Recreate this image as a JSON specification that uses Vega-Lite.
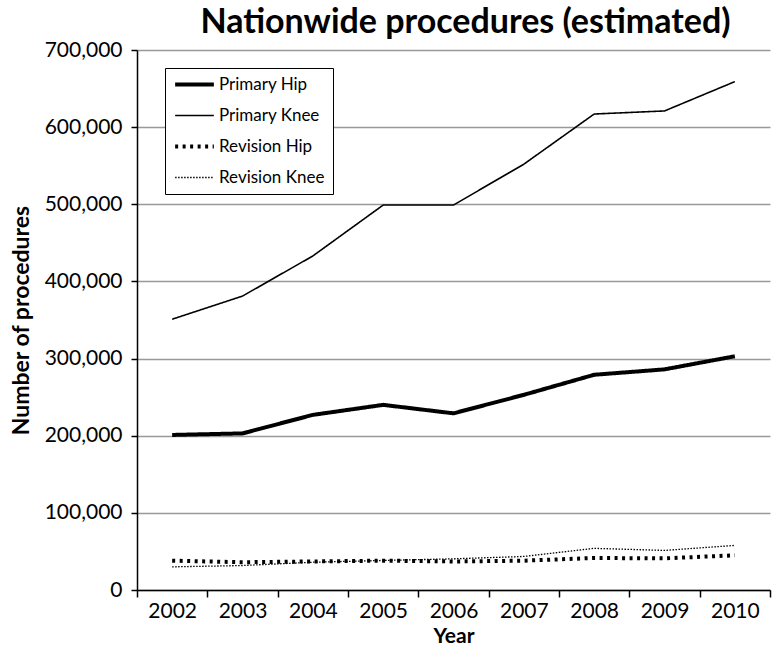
{
  "$schema": "https://vega.github.io/schema/vega-lite/v6.json",
  "autosize": {"type": "fit", "contains": "padding"},
  "width": 774,
  "height": 657,
  "padding": {"left": 10, "right": 3, "top": 6, "bottom": 11},
  "background": "white",
  "title": {"text": "Nationwide procedures (estimated)", "fontSize": 34, "fontWeight": "bold", "font": "Lato", "color": "black", "anchor": "middle", "dx": 12, "offset": -1},
  "config": {
    "font": "Lato",
    "view": {"stroke": null},
    "axis": {"labelColor": "black", "titleColor": "black", "domainColor": "black", "tickColor": "black", "labelFontSize": 21, "titleFontSize": 22, "titleFontWeight": "bold", "domainWidth": 1.5, "tickWidth": 1.5}
  },
  "data": {"values": [
    {"year": "2002", "series": "Primary Hip", "value": 201000},
    {"year": "2003", "series": "Primary Hip", "value": 203000},
    {"year": "2004", "series": "Primary Hip", "value": 227000},
    {"year": "2005", "series": "Primary Hip", "value": 240000},
    {"year": "2006", "series": "Primary Hip", "value": 229000},
    {"year": "2007", "series": "Primary Hip", "value": 253000},
    {"year": "2008", "series": "Primary Hip", "value": 279000},
    {"year": "2009", "series": "Primary Hip", "value": 286000},
    {"year": "2010", "series": "Primary Hip", "value": 303000},
    {"year": "2002", "series": "Primary Knee", "value": 351000},
    {"year": "2003", "series": "Primary Knee", "value": 381000},
    {"year": "2004", "series": "Primary Knee", "value": 433000},
    {"year": "2005", "series": "Primary Knee", "value": 499000},
    {"year": "2006", "series": "Primary Knee", "value": 499000},
    {"year": "2007", "series": "Primary Knee", "value": 552000},
    {"year": "2008", "series": "Primary Knee", "value": 617000},
    {"year": "2009", "series": "Primary Knee", "value": 621000},
    {"year": "2010", "series": "Primary Knee", "value": 659000},
    {"year": "2002", "series": "Revision Hip", "value": 38000},
    {"year": "2003", "series": "Revision Hip", "value": 36000},
    {"year": "2004", "series": "Revision Hip", "value": 37000},
    {"year": "2005", "series": "Revision Hip", "value": 38000},
    {"year": "2006", "series": "Revision Hip", "value": 37000},
    {"year": "2007", "series": "Revision Hip", "value": 38000},
    {"year": "2008", "series": "Revision Hip", "value": 41500},
    {"year": "2009", "series": "Revision Hip", "value": 41000},
    {"year": "2010", "series": "Revision Hip", "value": 45000},
    {"year": "2002", "series": "Revision Knee", "value": 30000},
    {"year": "2003", "series": "Revision Knee", "value": 31700},
    {"year": "2004", "series": "Revision Knee", "value": 36000},
    {"year": "2005", "series": "Revision Knee", "value": 38300},
    {"year": "2006", "series": "Revision Knee", "value": 40400},
    {"year": "2007", "series": "Revision Knee", "value": 43500},
    {"year": "2008", "series": "Revision Knee", "value": 54000},
    {"year": "2009", "series": "Revision Knee", "value": 51300},
    {"year": "2010", "series": "Revision Knee", "value": 57800}
  ]},
  "mark": {"type": "line", "color": "black", "strokeJoin": "round"},
  "encoding": {
    "x": {"field": "year", "type": "ordinal", "title": "Year", "bandPosition": 0.5,
      "scale": {"type": "band", "paddingInner": 0, "paddingOuter": 0},
      "axis": {"labelAngle": 0, "tickBand": "extent", "tickSize": 7, "labelPadding": 3, "titlePadding": 4, "titleFontSize": 21}},
    "y": {"field": "value", "type": "quantitative", "title": "Number of procedures",
      "scale": {"domain": [0, 700000]},
      "axis": {"values": [0, 100000, 200000, 300000, 400000, 500000, 600000, 700000], "format": ",d", "gridColor": "#999999", "gridWidth": 1.3, "tickSize": 6, "labelPadding": 9, "titlePadding": 11, "titleFontSize": 23}},
    "strokeWidth": {"field": "series", "type": "ordinal",
      "scale": {"type": "ordinal", "domain": ["Primary Hip", "Primary Knee", "Revision Hip", "Revision Knee"], "range": [4, 1.6, 4, 1.3]},
      "legend": {"title": null}},
    "strokeDash": {"field": "series", "type": "nominal",
      "scale": {"domain": ["Primary Hip", "Primary Knee", "Revision Hip", "Revision Knee"], "range": [[1, 0], [1, 0], [3, 4.5], [1.5, 1.5]]},
      "legend": {"title": null, "orient": "none", "legendX": 28, "legendY": 18, "strokeColor": "black", "fillColor": "white", "padding": 8, "symbolType": "stroke", "symbolSize": 1500, "clipHeight": 17, "labelFontSize": 17, "labelOffset": 3, "rowPadding": 13, "symbolStrokeColor": "black", "labelColor": "black"}}
  }
}
